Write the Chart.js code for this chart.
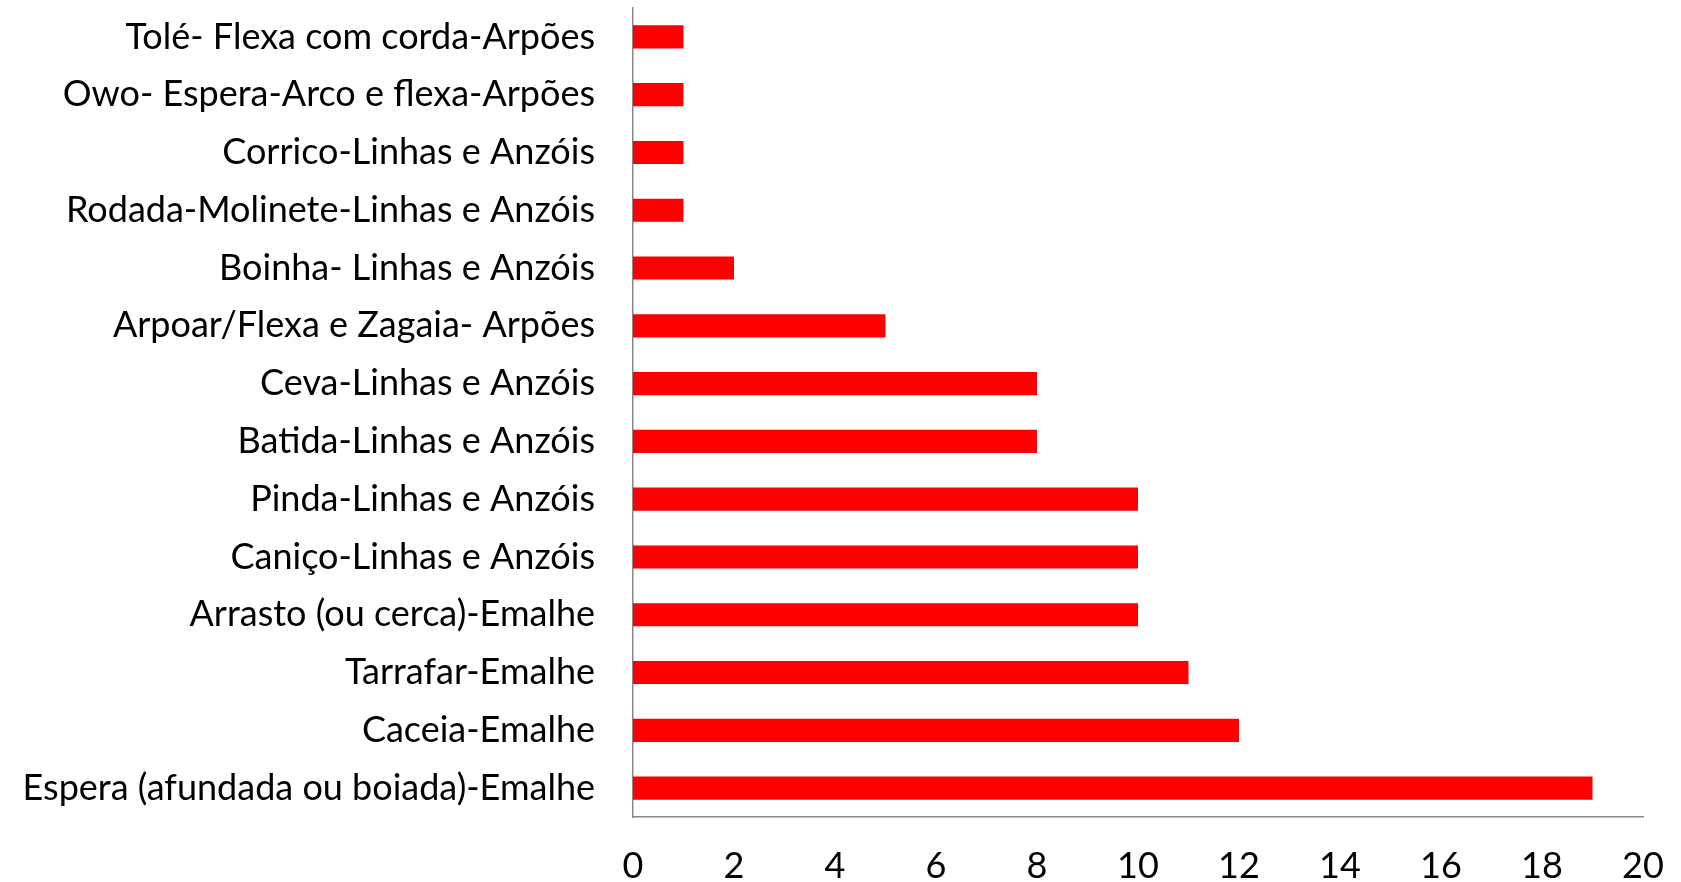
<!DOCTYPE html>
<html><head><meta charset="utf-8">
<script src="https://cdn.jsdelivr.net/npm/chart.js@4.4.1/dist/chart.umd.min.js"></script>
<style>html,body{margin:0;padding:0;background:#fff;}#wrap{width:1681px;height:882px;}</style>
</head><body><div id="wrap"><canvas id="c"></canvas></div>
<script>
const categories = [
  "Tolé- Flexa com corda-Arpões",
  "Owo- Espera-Arco e flexa-Arpões",
  "Corrico-Linhas e Anzóis",
  "Rodada-Molinete-Linhas e Anzóis",
  "Boinha- Linhas e Anzóis",
  "Arpoar/Flexa e Zagaia- Arpões",
  "Ceva-Linhas e Anzóis",
  "Batida-Linhas e Anzóis",
  "Pinda-Linhas e Anzóis",
  "Caniço-Linhas e Anzóis",
  "Arrasto (ou cerca)-Emalhe",
  "Tarrafar-Emalhe",
  "Caceia-Emalhe",
  "Espera (afundada ou boiada)-Emalhe"
];
const counts = [1,1,1,1,2,5,8,8,10,10,10,11,12,19];
const xMin = 0, xMax = 20, xStep = 2;

new Chart(document.getElementById('c'), {
  type: 'bar',
  data: { labels: categories, datasets: [{ data: counts, backgroundColor: '#FF0000', borderWidth: 0, barPercentage: 0.4, categoryPercentage: 1.0 }] },
  options: {
    indexAxis: 'y', responsive: true, maintainAspectRatio: false, animation: false,
    layout: { padding: { top: 8, right: 38, left: 0, bottom: 0 } },
    plugins: { legend: { display: false }, tooltip: { enabled: false } },
    scales: {
      x: {
        min: xMin, max: xMax,
        ticks: { stepSize: xStep, color: '#000', padding: 28, font: { family: 'Lato', size: 36 } },
        grid: { display: false, drawTicks: false },
        border: { display: true, color: '#888888', width: 1.5 },
        afterFit: s => { s.height = 65; s.paddingLeft = 0; s.paddingRight = 0; }
      },
      y: {
        ticks: { color: '#000', padding: 38, font: { family: 'Lato', size: 36 } },
        grid: { display: false, drawTicks: false },
        border: { display: true, color: '#888888', width: 1.5 },
        afterFit: s => { s.width = 633; s.paddingTop = 0; s.paddingBottom = 0; }
      }
    }
  }
});
</script></body></html>
